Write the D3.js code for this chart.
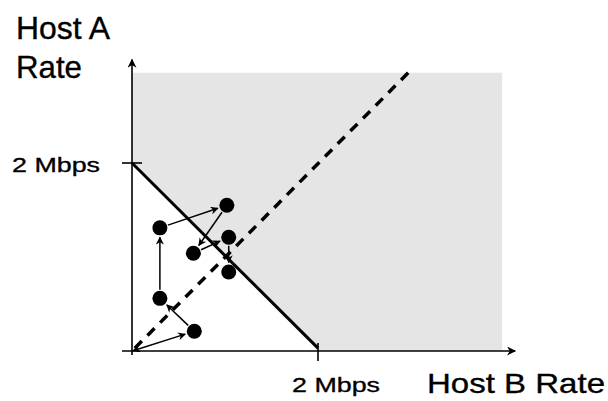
<!DOCTYPE html>
<html>
<head>
<meta charset="utf-8">
<script src="https://cdn.jsdelivr.net/npm/d3@7"></script>
<style>
  body { margin: 0; background: #fff; }
  text { font-family: "Liberation Sans", Arial, sans-serif; fill: #000; stroke: #000; stroke-width: 0.35; }
</style>
</head>
<body>
<svg id="chart" width="608" height="401"></svg>
<script>
// rates in Mbps
var capacity = 2;
var tickLabels = ["2 Mbps"];
// host B rate (x), host A rate (y) of each step
var stepB = [0.30, 1.02, 0.66, 1.04, 1.04, 0.30, 0.67];
var stepA = [1.31, 1.55, 1.04, 1.21, 0.84, 0.56, 0.21];
// arrows between steps
var arrowFrom = [6, 5, 0, 1, 2, 3];
var arrowTo   = [5, 0, 1, 2, 3, 4];
var fairLine = [[0.03, 0.03], [2.97, 2.96]];
var gray = [[0, 2.96], [3.98, 2.96], [3.98, 0], [2, 0], [0, 2]];

var svg = d3.select("#chart");

var x = d3.scaleLinear().domain([0, capacity]).range([132, 318]);
var y = d3.scaleLinear().domain([0, capacity]).range([351, 163]);

// markers
var defs = svg.append("defs");
defs.append("marker").attr("id", "head")
  .attr("viewBox", "0 0 10 10").attr("refX", 9).attr("refY", 5)
  .attr("markerWidth", 10).attr("markerHeight", 8)
  .attr("markerUnits", "userSpaceOnUse")
  .attr("orient", "auto-start-reverse")
  .append("path").attr("d", "M0,0 L10,5 L0,10 L3,5 Z").attr("fill", "#000");
defs.append("marker").attr("id", "axhead")
  .attr("viewBox", "0 0 10 10").attr("refX", 9).attr("refY", 5)
  .attr("markerWidth", 11).attr("markerHeight", 9)
  .attr("markerUnits", "userSpaceOnUse")
  .attr("orient", "auto")
  .append("path").attr("d", "M0,0 L10,5 L0,10 L3,5 Z").attr("fill", "#000");

// shaded (over capacity) region
svg.append("path")
  .attr("d", d3.line().x(function(d) { return x(d[0]); }).y(function(d) { return y(d[1]); })(gray) + "Z")
  .attr("fill", "#e5e5e5");

// axes
svg.append("line").attr("x1", x(0)).attr("y1", y(0) + 4).attr("x2", x(0)).attr("y2", y(3.1))
  .attr("stroke", "#000").attr("stroke-width", 1.6).attr("marker-end", "url(#axhead)");
svg.append("line").attr("x1", x(0) - 10).attr("y1", y(0)).attr("x2", x(4.12)).attr("y2", y(0))
  .attr("stroke", "#000").attr("stroke-width", 1.6).attr("marker-end", "url(#axhead)");

// ticks
svg.append("line").attr("x1", x(0) - 10).attr("x2", x(0) + 10).attr("y1", y(capacity)).attr("y2", y(capacity))
  .attr("stroke", "#000").attr("stroke-width", 1.6);
svg.append("line").attr("x1", x(capacity)).attr("x2", x(capacity)).attr("y1", y(0) - 8).attr("y2", y(0) + 10)
  .attr("stroke", "#000").attr("stroke-width", 1.6);

// capacity line
svg.append("line").attr("x1", x(0)).attr("y1", y(capacity)).attr("x2", x(capacity)).attr("y2", y(0.03))
  .attr("stroke", "#000").attr("stroke-width", 3);

// fair share line
svg.append("line")
  .attr("x1", x(fairLine[0][0])).attr("y1", y(fairLine[0][1]))
  .attr("x2", x(fairLine[1][0])).attr("y2", y(fairLine[1][1]))
  .attr("stroke", "#000").attr("stroke-width", 3.5).attr("stroke-dasharray", "10,8");

// arrows
var r = 7.5;
function arrow(p, q, both) {
  var dx = q[0] - p[0], dy = q[1] - p[1];
  var len = Math.sqrt(dx * dx + dy * dy);
  var s = p.origin ? 1 : r + 1, e = r + 2;
  var l = svg.append("line")
    .attr("x1", p[0] + dx / len * s).attr("y1", p[1] + dy / len * s)
    .attr("x2", q[0] - dx / len * e).attr("y2", q[1] - dy / len * e)
    .attr("stroke", "#000").attr("stroke-width", 1.5)
    .attr("marker-end", "url(#head)");
  if (both) l.attr("marker-start", "url(#head)");
}
var pts = stepB.map(function(b, i) { return [x(b), y(stepA[i])]; });
var o = [x(0), y(0)]; o.origin = true;
arrow(o, pts[6], true);
for (var i = 0; i < arrowFrom.length; i++) {
  arrow(pts[arrowFrom[i]], pts[arrowTo[i]], false);
}

svg.selectAll("circle.step").data(pts).enter().append("circle")
  .attr("class", "step")
  .attr("cx", function(d) { return d[0]; }).attr("cy", function(d) { return d[1]; })
  .attr("r", r).attr("fill", "#000");

// labels
function label(t, px, py, size, w) {
  svg.append("text").attr("x", px).attr("y", py).attr("font-size", size)
    .attr("textLength", w).attr("lengthAdjust", "spacingAndGlyphs").text(t);
}
label("Host A", 16, 39, 32, 94);
label("Rate", 16, 78, 32, 66);
label(tickLabels[0], 12, y(capacity) + 9, 21, 88);
label(tickLabels[0], 292, 392, 21, 88);
label("Host B Rate", 427, 393, 28, 178);
</script>
</body>
</html>
